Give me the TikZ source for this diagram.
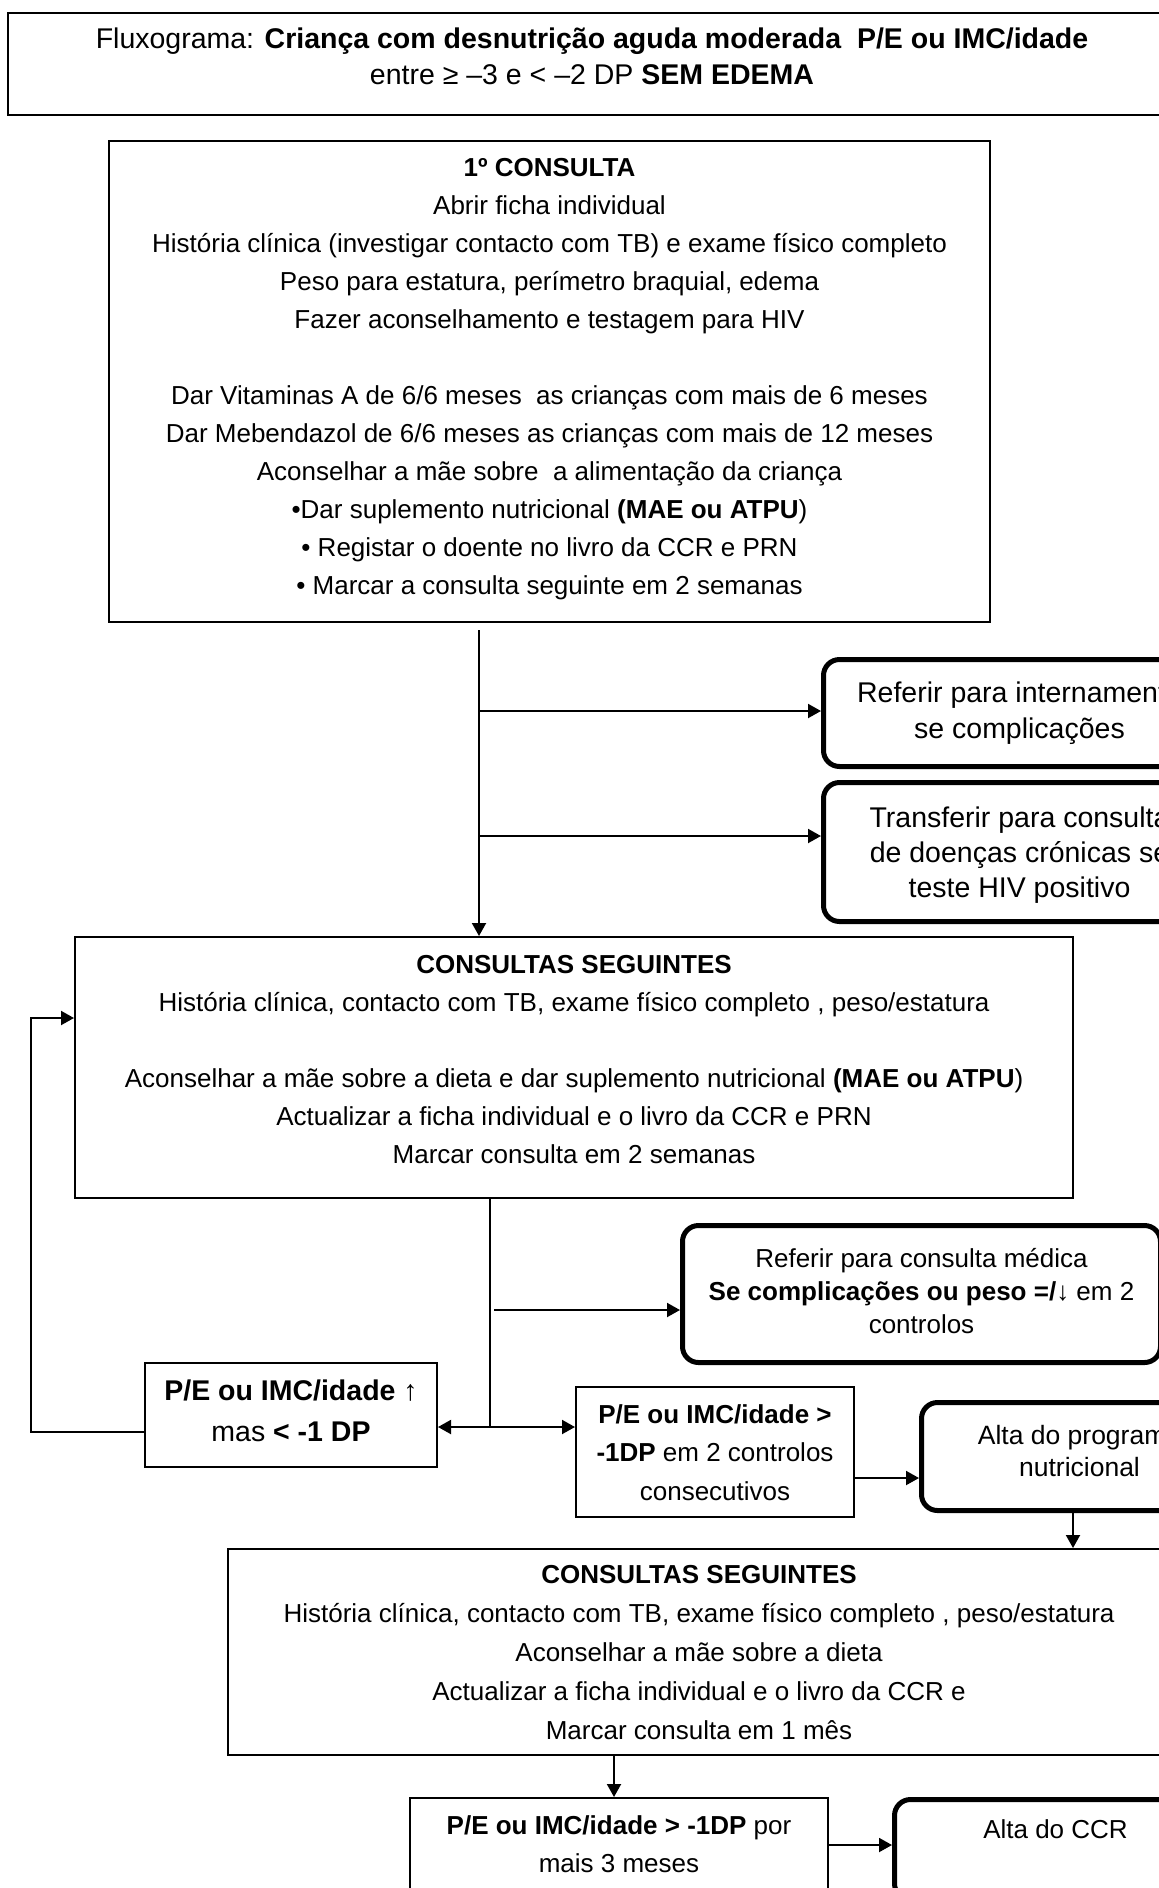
\documentclass[tikz,border=0pt]{standalone}
\usepackage{fontspec}
\setmainfont{Liberation Sans}
\usetikzlibrary{arrows.meta,calc}

% centred lines of a box, raised by #1 without changing the box extent
\newcommand{\boxlines}[2]{\raisebox{#1}[\height][\depth]{\begin{tabular}{@{}c@{}}#2\end{tabular}}}

\begin{document}
\begin{tikzpicture}[x=1pt,y=-1pt,
  box/.style={draw, line width=2pt, anchor=north west, inner sep=0pt,
    font=\fontsize{26}{38}\selectfont},
  roundbox/.style={box, line width=5pt, rounded corners=16pt},
  arr/.style={line width=2pt, -{Triangle[length=13pt,width=14pt]}},
  dblarr/.style={line width=2pt, {Triangle[length=13pt,width=14pt]}-{Triangle[length=13pt,width=14pt]}},
  plainline/.style={line width=1.3pt}
]
\useasboundingbox (0,0) rectangle (1159,1888);
\clip (0,0) rectangle (1159,1888);

% heading
\node[box, minimum width=1168, minimum height=102, font=\fontsize{28.5}{36}\selectfont] (title) at (7,12)
  {\boxlines{5pt}{Fluxograma: \textbf{Criança com desnutrição aguda moderada\ \ P/E ou IMC/idade}\\
   entre ≥ –3 e < –2 DP \textbf{SEM EDEMA}}};

% first visit
\node[box, minimum width=881, minimum height=481] (box1) at (108,140)
  {\boxlines{4pt}{\textbf{1º CONSULTA}\\
   Abrir ficha individual\\
   História clínica (investigar contacto com TB) e exame físico completo\\
   Peso para estatura, perímetro braquial, edema\\
   Fazer aconselhamento e testagem para HIV\\[38pt]
   Dar Vitaminas A de 6/6 meses\ \ as crianças com mais de 6 meses\\
   Dar Mebendazol de 6/6 meses as crianças com mais de 12 meses\\
   Aconselhar a mãe sobre\ \ a alimentação da criança\\
   •Dar suplemento nutricional \textbf{(MAE ou ATPU})\\
   • Registar o doente no livro da CCR e PRN\\
   • Marcar a consulta seguinte em 2 semanas}};

% referrals after the first visit
\node[roundbox, minimum width=392, minimum height=107, font=\fontsize{28.5}{36}\selectfont] (boxA) at (821,657)
  {\boxlines{0pt}{Referir para internamento\\ se complicações}};
\node[roundbox, minimum width=392, minimum height=139, font=\fontsize{28.5}{35}\selectfont] (boxB) at (821,780)
  {\boxlines{-3pt}{Transferir para consulta\\ de doenças crónicas se\\ teste HIV positivo}};

% follow-up visits every 2 weeks
\node[box, minimum width=998, minimum height=261] (box2) at (74,936)
  {\boxlines{7pt}{\textbf{CONSULTAS SEGUINTES}\\
   História clínica, contacto com TB, exame físico completo , peso/estatura\\[38pt]
   Aconselhar a mãe sobre a dieta e dar suplemento nutricional \textbf{(MAE ou ATPU})\\
   Actualizar a ficha individual e o livro da CCR e PRN\\
   Marcar consulta em 2 semanas}};

\node[roundbox, minimum width=478, minimum height=137, font=\fontsize{26}{33}\selectfont] (boxC) at (680,1223)
  {\boxlines{0pt}{Referir para consulta médica\\
   \textbf{Se complicações ou peso =/}↓ em 2\\
   controlos}};

\node[box, minimum width=292, minimum height=104, font=\fontsize{28.5}{41}\selectfont] (boxD) at (144,1362)
  {\boxlines{2pt}{\textbf{P/E ou IMC/idade} ↑\\ mas \textbf{< -1 DP}}};

\node[box, minimum width=278, minimum height=130, font=\fontsize{26}{38.5}\selectfont] (boxE) at (575,1386)
  {\boxlines{-2pt}{\textbf{P/E ou IMC/idade >}\\ \textbf{-1DP} em 2 controlos\\ consecutivos}};

\node[roundbox, minimum width=316, minimum height=108, font=\fontsize{26.5}{32}\selectfont] (boxF) at (919,1400)
  {\boxlines{2pt}{Alta do programa\\ nutricional}};

% monthly follow-up
\node[box, minimum width=942, minimum height=206, font=\fontsize{26}{39}\selectfont] (boxG) at (227,1548)
  {\boxlines{-2pt}{\textbf{CONSULTAS SEGUINTES}\\
   História clínica, contacto com TB, exame físico completo , peso/estatura\\
   Aconselhar a mãe sobre a dieta\\
   Actualizar a ficha individual e o livro da CCR e\\
   Marcar consulta em 1 mês}};

\node[box, minimum width=418, minimum height=100] (boxH) at (409,1797)
  {\boxlines{2pt}{\textbf{P/E ou IMC/idade > -1DP} por\\ mais 3 meses}};

\node[roundbox, minimum width=322, minimum height=100] (boxI) at (892,1797)
  {\boxlines{0pt}{Alta do CCR\\ \mbox{}}};

% connectors
\coordinate (v1) at (479,0);
\draw[arr, shorten <=7pt] (box1.south -| v1) -- (box2.north -| v1);
\coordinate (bA) at (479,711);
\coordinate (bB) at (479,836);
\draw[arr] (bA) -- (bA -| boxA.west);
\draw[arr] (bB) -- (bB -| boxB.west);

\coordinate (j) at (490,1427);
\draw[plainline] (box2.south -| j) -- (j);
\coordinate (bC) at (494,1310);
\draw[arr] (bC) -- (bC -| boxC.west);
\draw[dblarr] (j -| boxD.east) -- (j -| boxE.west);

\coordinate (L1) at (31,1432);
\coordinate (L2) at (31,1018);
\draw[arr] (L1 -| boxD.west) -- (L1) -- (L2) -- (L2 -| box2.west);

\coordinate (ef) at (853,1478);
\draw[arr] (ef -| boxE.east) -- (ef -| boxF.west);
\coordinate (fg) at (1073,0);
\draw[arr] (boxF.south -| fg) -- (boxG.north -| fg);
\coordinate (gh) at (614,0);
\draw[arr] (boxG.south -| gh) -- (boxH.north -| gh);
\coordinate (hi) at (827,1845);
\draw[arr] (hi -| boxH.east) -- (hi -| boxI.west);
\end{tikzpicture}
\end{document}
